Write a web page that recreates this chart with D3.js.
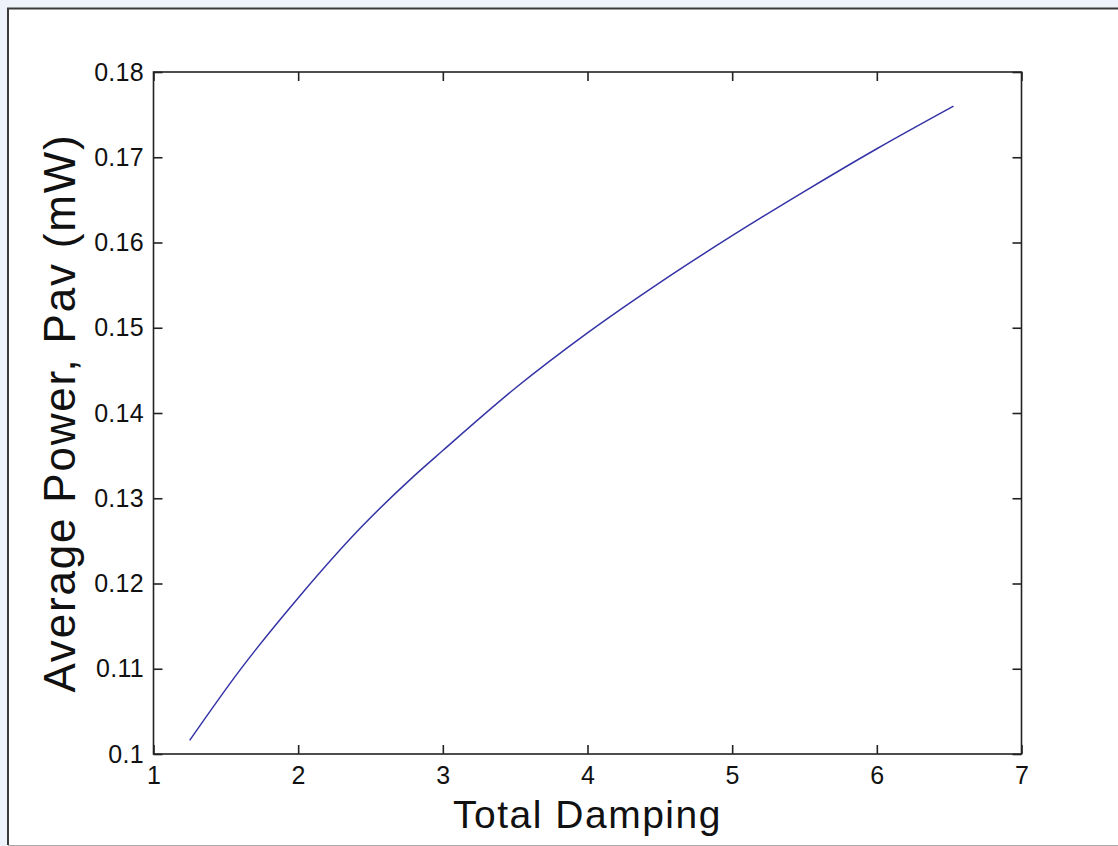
<!DOCTYPE html>
<html>
<head>
<meta charset="utf-8">
<script src="https://cdn.jsdelivr.net/npm/d3@7"></script>
<style>
  html, body { margin: 0; padding: 0; background: #eef2fa; }
  svg { display: block; }
  text { font-family: "Liberation Sans", Arial, Helvetica, sans-serif; fill: #111; }
</style>
</head>
<body>
<svg id="chart" width="1118" height="846"></svg>
<script>
// Total damping (x) vs. average power in mW (y)
const damping = [1.25, 1.6, 2.0, 2.43, 2.8, 3.0, 3.5, 4.0, 4.5, 5.0, 5.5, 6.0, 6.53];
const powerMW = [0.1016, 0.1099, 0.1183, 0.1265, 0.1326, 0.1356, 0.1429, 0.1494, 0.1553, 0.1608, 0.1660, 0.1710, 0.1760];
const xTicks = [1, 2, 3, 4, 5, 6, 7];
const yTicks = [0.10, 0.11, 0.12, 0.13, 0.14, 0.15, 0.16, 0.17, 0.18];
const xTitle = "Total Damping";
const yTitle = "Average Power, Pav (mW)";

const svg = d3.select("#chart");
const W = 1118, H = 846;

// figure window panel
svg.append("rect").attr("x", 8).attr("y", 9).attr("width", W - 8).attr("height", H - 10)
  .attr("fill", "#ffffff");
svg.append("line").attr("x1", 7).attr("x2", W).attr("y1", 8.5).attr("y2", 8.5)
  .attr("stroke", "#3a3a3a").attr("stroke-width", 2);
svg.append("line").attr("x1", 8).attr("x2", 8).attr("y1", 8).attr("y2", H - 1)
  .attr("stroke", "#3a3a3a").attr("stroke-width", 2);
svg.append("line").attr("x1", 8).attr("x2", W).attr("y1", H - 0.5).attr("y2", H - 0.5)
  .attr("stroke", "#a8a8a8").attr("stroke-width", 1);

const m = { left: 153.5, right: 1021.5, top: 72, bottom: 754 };
const x = d3.scaleLinear().domain([1, 7]).range([m.left, m.right]);
const y = d3.scaleLinear().domain([0.10, 0.18]).range([m.bottom, m.top]);
const tickLen = 9;

// data curve
const line = d3.line()
  .x((d, i) => x(damping[i]))
  .y(d => y(d))
  .curve(d3.curveMonotoneX);
svg.append("path").datum(powerMW)
  .attr("d", line)
  .attr("fill", "none")
  .attr("stroke", "#3434a6")
  .attr("stroke-width", 1.5);

// axes box
svg.append("rect")
  .attr("x", m.left).attr("y", m.top)
  .attr("width", m.right - m.left).attr("height", m.bottom - m.top)
  .attr("fill", "none").attr("stroke", "#222").attr("stroke-width", 1.6);

// bottom axis (ticks inward) and mirrored top ticks
const xAxisB = d3.axisBottom(x).tickValues(xTicks).tickFormat(d3.format("d"))
  .tickSizeInner(-tickLen).tickSizeOuter(0).tickPadding(12);
const gx = svg.append("g").attr("transform", `translate(0,${m.bottom})`).call(xAxisB);
const xAxisT = d3.axisTop(x).tickValues(xTicks).tickFormat("")
  .tickSizeInner(-tickLen).tickSizeOuter(0);
const gxt = svg.append("g").attr("transform", `translate(0,${m.top})`).call(xAxisT);

// left axis and mirrored right ticks
const yAxisL = d3.axisLeft(y).tickValues(yTicks).tickFormat(d => d3.format(".2~f")(d))
  .tickSizeInner(-tickLen).tickSizeOuter(0).tickPadding(9.5);
const gy = svg.append("g").attr("transform", `translate(${m.left},0)`).call(yAxisL);
const yAxisR = d3.axisRight(y).tickValues(yTicks).tickFormat("")
  .tickSizeInner(-tickLen).tickSizeOuter(0);
const gyr = svg.append("g").attr("transform", `translate(${m.right},0)`).call(yAxisR);

[gx, gxt, gy, gyr].forEach(g => {
  g.select(".domain").remove();
  g.selectAll(".tick line").attr("stroke", "#222").attr("stroke-width", 1.6);
  g.selectAll(".tick text")
    .style("font-family", '"Liberation Sans", Arial, sans-serif')
    .style("font-size", "25px")
    .style("letter-spacing", "0.3px")
    .attr("fill", "#222");
});

// axis titles
svg.append("text")
  .attr("x", (m.left + m.right) / 2).attr("y", 828)
  .attr("text-anchor", "middle")
  .style("font-size", "39px")
  .style("letter-spacing", "1.5px")
  .text(xTitle);

svg.append("text")
  .attr("transform", `translate(75,${(m.top + m.bottom) / 2}) rotate(-90)`)
  .attr("text-anchor", "middle")
  .style("font-size", "44px")
  .style("letter-spacing", "1.8px")
  .text(yTitle);
</script>
</body>
</html>
